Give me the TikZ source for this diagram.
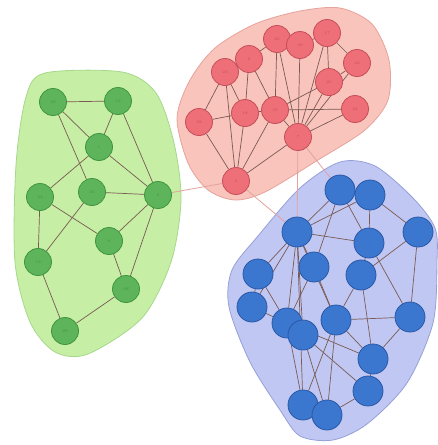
\documentclass[tikz,border=0pt]{standalone}
\usetikzlibrary{backgrounds}
\definecolor{gFill}{HTML}{C6EEA4}
\definecolor{gLine}{HTML}{A6D88C}
\definecolor{gNode}{HTML}{5EB45A}
\definecolor{gRim}{HTML}{3F9440}
\definecolor{rFill}{HTML}{F9C4BB}
\definecolor{rLine}{HTML}{E6A39C}
\definecolor{rNode}{HTML}{EE6F78}
\definecolor{rRim}{HTML}{C44E5A}
\definecolor{bFill}{HTML}{C0C7F2}
\definecolor{bLine}{HTML}{95A0D8}
\definecolor{bNode}{HTML}{3B76CF}
\definecolor{bRim}{HTML}{2A58A6}
\definecolor{eLine}{HTML}{7A5A55}
\definecolor{xLine}{HTML}{E2A2A0}
\pgfdeclarelayer{hulls}
\pgfdeclarelayer{links}
\pgfsetlayers{hulls,links,main}

\begin{document}
\begin{tikzpicture}[
    x=1pt, y=-1pt,
    vtx/.style={circle, draw=#1Rim, fill=#1Node, line width=0.8pt,
                minimum size=27pt, inner sep=0pt, text=#1Rim,
                font=\fontsize{4}{4}\selectfont},
    bvtx/.style={vtx=b, minimum size=30pt},
    hull/.style={fill=#1Fill, draw=#1Line, line width=0.8pt},
    link/.style={draw=eLine, line width=0.7pt},
    xlink/.style={draw=xLine, line width=0.8pt},
  ]
  \useasboundingbox (0,0) rectangle (437,445);

  % Green cluster
  \node[vtx=g] (g1)  at (53,102)  {20};
  \node[vtx=g] (g2)  at (118,101) {16};
  \node[vtx=g] (g3)  at (99,147)  {1};
  \node[vtx=g] (g4)  at (40,197)  {24};
  \node[vtx=g] (g5)  at (92,192)  {26};
  \node[vtx=g] (g6)  at (158,195) {6};
  \node[vtx=g] (g7)  at (109,241) {8};
  \node[vtx=g] (g8)  at (38,262)  {19};
  \node[vtx=g] (g9)  at (126,289) {28};
  \node[vtx=g] (g10) at (65,331)  {29};

  % Red cluster
  \node[vtx=r] (r1)  at (225,72)  {23};
  \node[vtx=r] (r2)  at (249,59)  {9};
  \node[vtx=r] (r3)  at (277,39)  {26};
  \node[vtx=r] (r4)  at (300,45)  {38};
  \node[vtx=r] (r5)  at (327,33)  {17};
  \node[vtx=r] (r6)  at (357,63)  {22};
  \node[vtx=r] (r7)  at (329,82)  {20};
  \node[vtx=r] (r8)  at (199,122) {28};
  \node[vtx=r] (r9)  at (245,113) {18};
  \node[vtx=r] (r10) at (275,110) {36};
  \node[vtx=r] (r11) at (355,109) {34};
  \node[vtx=r] (r12) at (298,137) {7};
  \node[vtx=r] (r13) at (236,181) {4};

  % Blue cluster
  \node[bvtx] (b1)  at (340,190) {};
  \node[bvtx] (b2)  at (370,195) {};
  \node[bvtx] (b3)  at (297,232) {};
  \node[bvtx] (b4)  at (418,232) {};
  \node[bvtx] (b5)  at (369,243) {};
  \node[bvtx] (b6)  at (314,267) {};
  \node[bvtx] (b7)  at (258,274) {};
  \node[bvtx] (b8)  at (361,275) {};
  \node[bvtx] (b9)  at (252,307) {};
  \node[bvtx] (b10) at (287,323) {};
  \node[bvtx] (b11) at (303,335) {};
  \node[bvtx] (b12) at (336,320) {};
  \node[bvtx] (b13) at (410,317) {};
  \node[bvtx] (b14) at (373,359) {};
  \node[bvtx] (b15) at (368,391) {};
  \node[bvtx] (b16) at (303,405) {};
  \node[bvtx] (b17) at (327,415) {};

  % Cluster hulls
  \begin{pgfonlayer}{hulls}
    \filldraw[hull=g] plot[smooth cycle] coordinates {
      (45,73) (122,72) (156,93) (174,143) (181,200) (171,262)
      (142,318) (88,354) (55,352) (30,322) (15,262) (16,165) (26,97)};
    \filldraw[hull=r] plot[smooth cycle] coordinates {
      (177,118) (190,80) (215,48) (255,24) (300,11) (340,8)
      (372,24) (389,60) (388,100) (365,130) (318,160) (265,192)
      (235,200) (208,190) (188,163)};
    \filldraw[hull=b] plot[smooth cycle] coordinates {
      (340,162) (375,166) (413,198) (435,228) (437,262) (433,323)
      (407,383) (367,424) (333,440) (300,436) (280,410) (250,362)
      (229,307) (232,270) (258,236) (300,188)};
  \end{pgfonlayer}

  % Edges
  \begin{pgfonlayer}{links}
    \foreach \a/\b in {g1/g2, g1/g3, g1/g5, g2/g3, g2/g6, g3/g4, g3/g6,
                       g4/g7, g4/g8, g5/g6, g5/g8, g6/g7, g6/g9, g7/g9,
                       g8/g10, g9/g10}
      \draw[link] (\a) -- (\b);
    \foreach \a/\b in {r13/r8, r13/r1, r13/r9, r13/r10, r13/r12, r8/r1,
                       r8/r9, r1/r2, r1/r9, r2/r9, r2/r10, r2/r3, r3/r4,
                       r3/r10, r3/r12, r4/r5, r4/r12, r5/r6, r5/r7,
                       r5/r12, r6/r7, r7/r12, r7/r10, r10/r11, r10/r12,
                       r9/r10, r11/r12, r6/r12}
      \draw[link] (\a) -- (\b);
    \foreach \a/\b in {b1/b2, b1/b3, b1/b6, b1/b5, b2/b5, b2/b4, b2/b3,
                       b3/b5, b3/b6, b3/b7, b3/b9, b3/b10, b3/b11, b3/b16,
                       b3/b12, b4/b8, b4/b13, b5/b8, b5/b13, b6/b12,
                       b6/b10, b7/b10, b7/b9, b8/b12, b8/b14, b9/b10,
                       b10/b11, b10/b16, b10/b14, b11/b15, b11/b17,
                       b12/b13, b12/b14, b12/b17, b12/b16, b13/b14,
                       b15/b17, b16/b17, b14/b15}
      \draw[link] (\a) -- (\b);
    % between clusters
    \draw[xlink] (g6) -- (r13);
    \draw[xlink] (r13) -- (b3);
    \draw[xlink] (r12) -- (b3);
    \draw[xlink] (r12) -- (b1);
  \end{pgfonlayer}
\end{tikzpicture}
\end{document}
